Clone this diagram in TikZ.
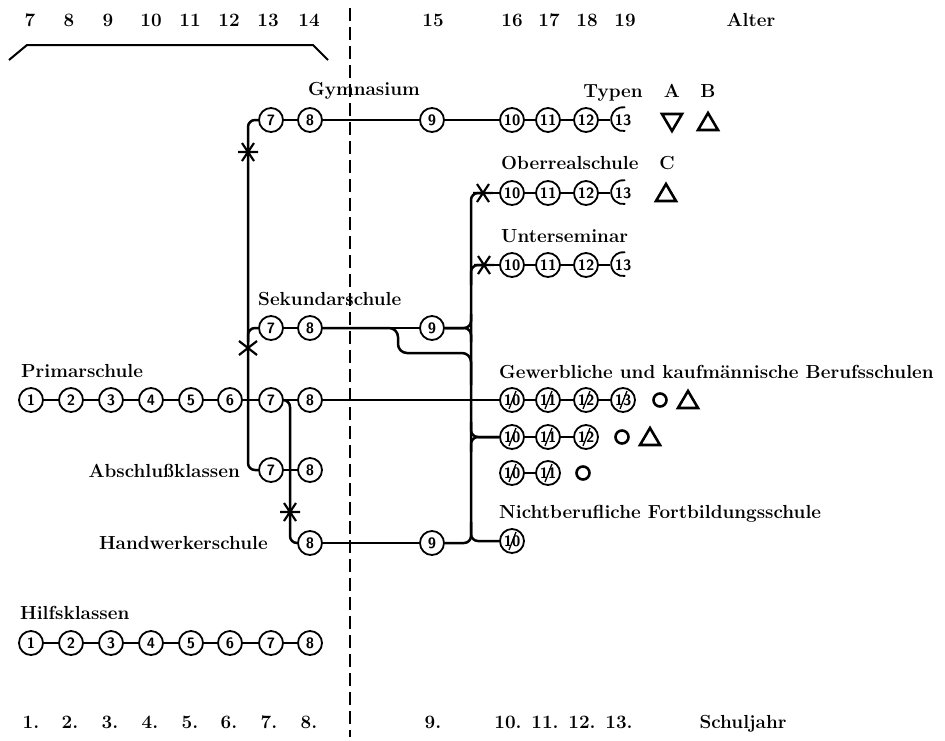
\documentclass[tikz,border=0pt]{standalone}
\usepackage{tikz}
\usetikzlibrary{calc}

\tikzset{
  jahr/.style={circle,draw,line width=1.8pt,minimum size=24pt,inner sep=0pt,
    font=\sffamily\bfseries\fontsize{15}{15}\selectfont},
  jahrx/.style={jahr,path picture={\draw[line width=1.3pt]
    ([shift={(-3pt,-9pt)}]path picture bounding box.center) --
    ([shift={(4pt,9pt)}]path picture bounding box.center);}},
  jahrh/.style={jahr,draw=none},
  lbl/.style={font=\bfseries\fontsize{18.9}{20}\selectfont,inner sep=0pt},
  weg/.style={line width=2.5pt},
  rund/.style={weg,rounded corners=7pt},
  sym/.style={line width=2.6pt},
}

% Zeichen am Rand
\newcommand{\stern}[1]{\draw[line width=2.2pt] ($(#1)+(-10,0)$) -- ($(#1)+(10,0)$)
  ($(#1)+(-6,-9)$) -- ($(#1)+(6,9)$) ($(#1)+(-6,9)$) -- ($(#1)+(6,-9)$);}
\newcommand{\kreuz}[1]{\draw[line width=2.2pt]
  ($(#1)+(-9,-7)$) -- ($(#1)+(9,7)$) ($(#1)+(-9,7)$) -- ($(#1)+(9,-7)$);}
\newcommand{\dreiauf}[1]{\draw[sym] ($(#1)+(-10,8)$) -- ++(20,0) -- ++(-10,-17) -- cycle;}
\newcommand{\dreiab}[1]{\draw[sym] ($(#1)+(-10,-8)$) -- ++(20,0) -- ++(-10,17) -- cycle;}
\newcommand{\halb}[1]{\draw[line width=1.8pt] (#1.80) arc[start angle=80,end angle=280,radius=12pt];}

\begin{document}
\begin{tikzpicture}[x=1pt,y=-1pt]
\useasboundingbox (0,0) rectangle (945,740);

% Alter oben, Schuljahr unten
\foreach \a/\x in {7/30,8/69,9/108,10/151,11/190,12/229,13/268,14/309,
    15/433,16/512,17/549,18/587,19/625}
  \node[lbl,anchor=base] (alt\a) at (\x,26) {\a};
\node[lbl,anchor=base] (alter) at (751,26) {Alter};
\draw[line width=2pt] (9,60) -- (27,45) -- (313,45) -- (328,60);
\foreach \j/\x in {1/31,2/70,3/110,4/150,5/190,6/229,7/269,8/309,
    9/433,10/508,11/545,12/582,13/619}
  \node[lbl,anchor=base] (sj\j) at (\x,728) {\j.};
\node[lbl,anchor=base] (schuljahr) at (743,728) {Schuljahr};
\draw[line width=2.6pt,dash pattern=on 13pt off 6pt] (350,8) -- (350,737);

% Hilfslinien
\coordinate (lx) at (248,0);
\coordinate (mx) at (290,0);
\coordinate (rx) at (471,0);

% Primarschule und Hilfsklassen
\node[lbl,anchor=base west] (primar) at (21,377) {Primarschule};
\node[lbl,anchor=base west] (hilfs) at (20,619) {Hilfsklassen};
\foreach \i/\x in {1/31,2/71,3/111,4/151,5/191,6/230,7/271,8/310}{
  \node[jahr] (p\i) at (\x,400) {\i};
  \node[jahr] (h\i) at (\x,643) {\i};
}
\foreach \i in {1,...,7}{
  \pgfmathtruncatemacro\j{\i+1}
  \draw[weg] (p\i) -- (p\j);
  \draw[weg] (h\i) -- (h\j);
}

% Gymnasium
\node[lbl,anchor=base] (gym) at (364,95) {Gymnasium};
\node[jahr] (g7) at (271,120) {7};
\node[jahr] (g8) at (310,120) {8};
\node[jahr] (g9) at (432,120) {9};
\node[jahr] (g10) at (512,120) {10};
\node[jahr] (g11) at (548,120) {11};
\node[jahr] (g12) at (586,120) {12};
\node[jahrh] (g13) at (623,120) {13};
\halb{g13}
\draw[weg] (g7) -- (g8) -- (g9) -- (g10) -- (g11) -- (g12) -- (g13);
\node[lbl,anchor=base] (typen) at (613,97) {Typen};
\node[lbl,anchor=base] (typa) at (672,97) {A};
\node[lbl,anchor=base] (typb) at (708,97) {B};
\dreiab{672,122}
\dreiauf{708,122}

% Oberrealschule und Unterseminar
\node[lbl,anchor=base west] (ober) at (501,169) {Oberrealschule};
\node[lbl,anchor=base] (typc) at (667,169) {C};
\node[lbl,anchor=base west] (unter) at (501,242) {Unterseminar};
\foreach \r/\y in {o/193,u/265}{
  \node[jahr] (\r10) at (512,\y) {10};
  \node[jahr] (\r11) at (548,\y) {11};
  \node[jahr] (\r12) at (586,\y) {12};
  \node[jahrh] (\r13) at (623,\y) {13};
  \halb{\r13}
  \draw[weg] (\r10) -- (\r11) -- (\r12) -- (\r13);
}
\dreiauf{666,193}
\coordinate (st3) at (483,193);
\coordinate (st4) at (484,265);
\stern{st3}
\stern{st4}
\draw[weg] (st3) -- (o10);
\draw[weg] (st4) -- (u10);

% Sekundarschule
\node[lbl,anchor=base west] (sek) at (258,305) {Sekundarschule};
\node[jahr] (s7) at (271,328) {7};
\node[jahr] (s8) at (310,328) {8};
\node[jahr] (s9) at (432,328) {9};
\draw[weg] (s7) -- (s8) -- (s9);

% Abschlussklassen und Handwerkerschule
\node[lbl,anchor=base east] (abschl) at (240,477) {Abschlußklassen};
\node[jahr] (a7) at (271,470) {7};
\node[jahr] (a8) at (310,470) {8};
\draw[weg] (a7) -- (a8);
\node[lbl,anchor=base east] (handw) at (268,549) {Handwerkerschule};
\node[jahr] (w8) at (310,543) {8};
\node[jahr] (w9) at (432,543) {9};
\draw[weg] (w8) -- (w9);

% Berufsschulen
\node[lbl,anchor=base west] (beruf) at (499,378) {Gewerbliche und kaufmännische Berufsschulen};
\node[jahrx] (b10) at (512,400) {10};
\node[jahrx] (b11) at (548,400) {11};
\node[jahrx] (b12) at (586,400) {12};
\node[jahrx] (b13) at (623,400) {13};
\draw[weg] (b10) -- (b11) -- (b12) -- (b13);
\node[jahrx] (c10) at (512,437) {10};
\node[jahrx] (c11) at (548,437) {11};
\node[jahrx] (c12) at (586,437) {12};
\draw[weg] (c10) -- (c11) -- (c12);
\node[jahrx] (d10) at (512,473) {10};
\node[jahrx] (d11) at (548,473) {11};
\draw[weg] (d10) -- (d11);
\draw[sym] (660,400) circle[radius=6.5pt];
\dreiauf{688,400}
\draw[sym] (622,437) circle[radius=6.5pt];
\dreiauf{650,437}
\draw[sym] (583,473) circle[radius=6.5pt];
\node[lbl,anchor=base west] (nicht) at (499,518) {Nichtberufliche Fortbildungsschule};
\node[jahrx] (n10) at (512,541) {10};

% Uebergaenge links
\draw[rund] (g7.west) -| (lx |- a7) -- (a7.west);
\draw[rund] (lx |- 0,342) |- (s7.west);
\coordinate (st1) at (248,152);
\coordinate (st2) at (248,348);
\stern{st1}
\kreuz{st2}
\draw[rund] (p7.east) -| (mx |- w8) -- (w8.west);
\coordinate (st5) at (290,512);
\stern{st5}

% Uebergaenge rechts
\draw[rund] (st3) -| (rx |- n10) -- (n10.west);
\draw[rund] (rx |- 0,285) |- (st4);
\draw[rund] (s9.east) -| (rx |- 0,314);
\draw[rund] (s9.east) -| (rx |- 0,342);
\draw[rounded corners=9pt,weg] (s8.east) -| (398,353) -| (rx |- 0,385);
\draw[weg] (p8) -- (b10);
\draw[rund] (rx |- 0,422) |- (c10.west);
\draw[rund] (rx |- 0,452) |- (c10.west);
\draw[rund] (w9.east) -| (rx |- 0,522);
\end{tikzpicture}
\end{document}
